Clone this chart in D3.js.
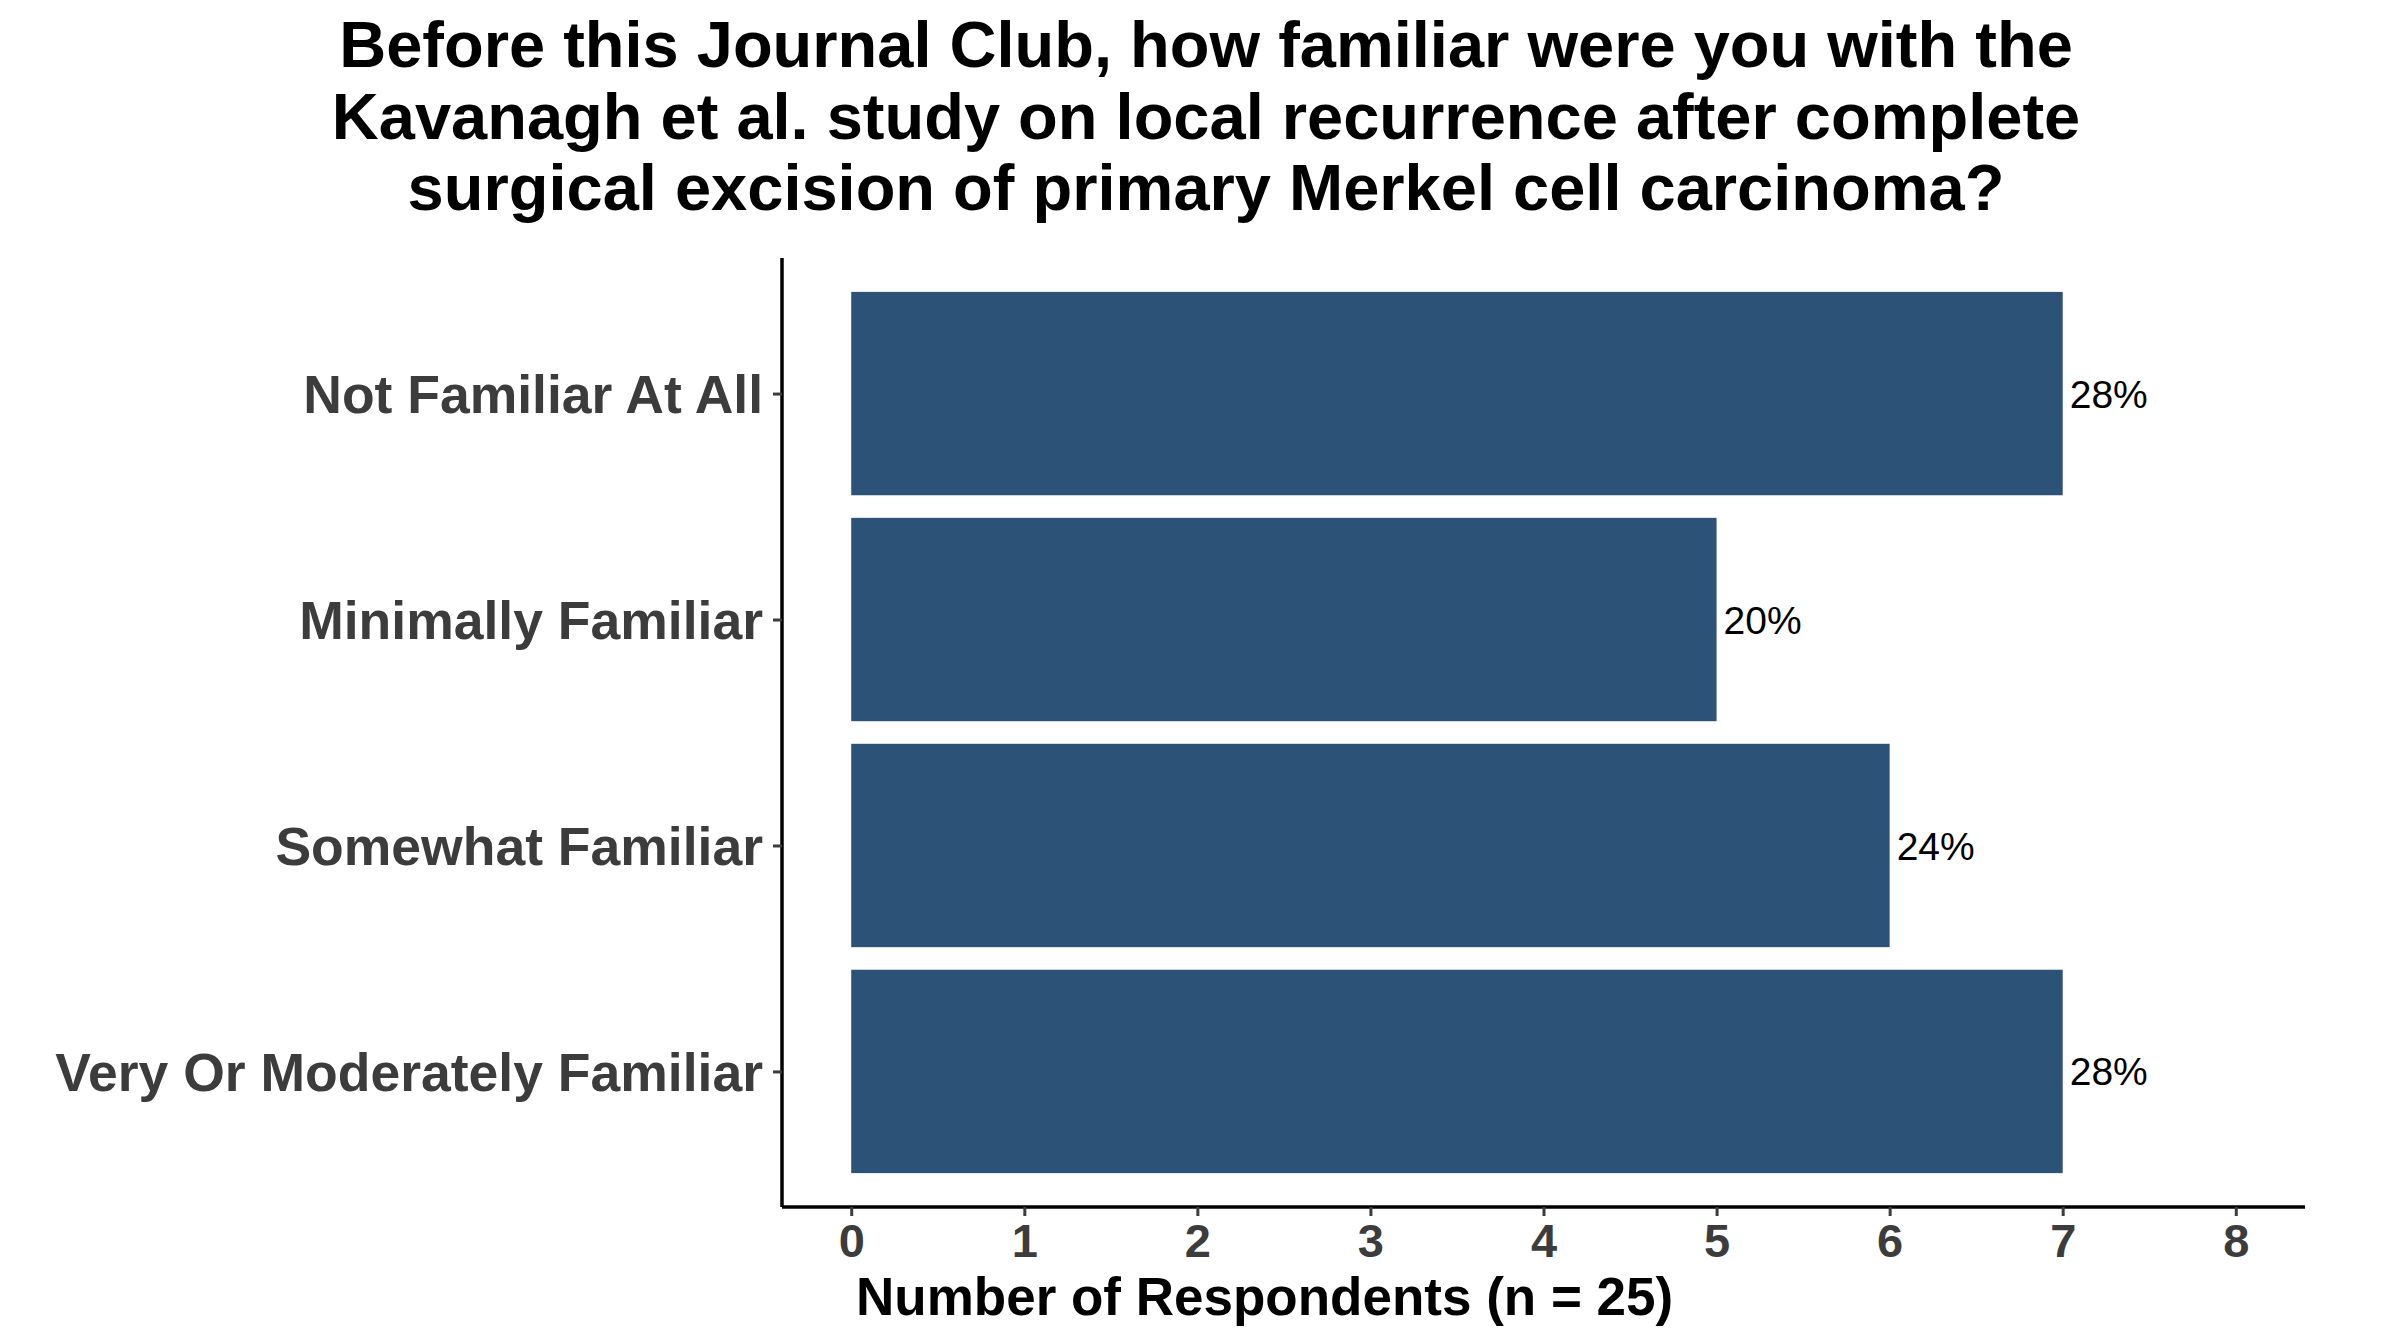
<!DOCTYPE html>
<html>
<head>
<meta charset="utf-8">
<script src="https://cdn.jsdelivr.net/npm/d3@7"></script>
<style>
  body { margin: 0; background: #fff; }
  text { font-family: "Liberation Sans", Arial, sans-serif; }
</style>
</head>
<body>
<div id="chart"></div>
<script>
// values
var categories = ["Not Familiar At All", "Minimally Familiar", "Somewhat Familiar", "Very Or Moderately Familiar"];
var counts = [7, 5, 6, 7];
var pctLabels = ["28%", "20%", "24%", "28%"];
var xTicks = [0, 1, 2, 3, 4, 5, 6, 7, 8];
var titleLines = [
    "Before this Journal Club, how familiar were you with the",
    "Kavanagh et al. study on local recurrence after complete",
    "surgical excision of primary Merkel cell carcinoma?"
];
var xTitle = "Number of Respondents (n = 25)";

function drawChart() {
    var width = 2400;
    var height = 1344;
    var panelLeft = 782, panelRight = 2305, panelTop = 258, panelBottom = 1207;
    var barColor = "#2C5277";
    var grey = "#3C3C3C";

    var svg = d3.select("#chart").append("svg")
        .attr("width", width)
        .attr("height", height);

    /*****************  Scales **********************/

    var x = d3.scaleLinear()
        .domain([-0.4, 8.4])
        .range([panelLeft, panelRight]);

    // discrete scale with 0.6 step expansion on both ends, like ggplot
    var step = (panelBottom - panelTop) / (categories.length - 1 + 1.2);
    var y = d3.scalePoint()
        .domain(categories)
        .range([panelTop + 0.6 * step, panelBottom - 0.6 * step]);
    var barH = step * 0.9;

    /*****************  Bars **********************/

    svg.selectAll(".bar")
        .data(categories)
        .enter()
        .append("rect")
        .attr("class", "bar")
        .attr("x", x(0))
        .attr("y", function (d) { return y(d) - barH / 2; })
        .attr("width", function (d, i) { return x(counts[i]) - x(0); })
        .attr("height", barH)
        .style("fill", barColor);

    svg.selectAll(".pct")
        .data(categories)
        .enter()
        .append("text")
        .attr("class", "pct")
        .attr("x", function (d, i) { return x(counts[i]) + 7; })
        .attr("y", function (d) { return y(d); })
        .attr("dy", "0.36em")
        .style("font-size", "39px")
        .style("fill", "#000")
        .text(function (d, i) { return pctLabels[i]; });

    /*****************  Axes **********************/

    var xAxis = svg.append("g")
        .attr("transform", "translate(0," + panelBottom + ")")
        .call(d3.axisBottom(x).tickValues(xTicks).tickSize(9).tickPadding(8).tickFormat(d3.format("d")));
    xAxis.select(".domain").attr("d", "M" + panelLeft + ",0H" + panelRight).style("stroke", "#000").style("stroke-width", 3.5);
    xAxis.selectAll(".tick line").style("stroke", grey).style("stroke-width", 3);
    xAxis.selectAll(".tick text")
        .style("font-size", "47px")
        .style("font-weight", "bold")
        .style("fill", grey)
        .style("font-family", "'Liberation Sans', Arial, sans-serif");

    var yAxis = svg.append("g")
        .attr("transform", "translate(" + panelLeft + ",0)")
        .call(d3.axisLeft(y).tickSize(9).tickPadding(10));
    yAxis.select(".domain").attr("d", "M0," + panelTop + "V" + panelBottom).style("stroke", "#000").style("stroke-width", 3.5);
    yAxis.selectAll(".tick line").style("stroke", grey).style("stroke-width", 3);
    yAxis.selectAll(".tick text")
        .attr("dy", "0.36em")
        .style("font-size", "53.5px")
        .style("font-weight", "bold")
        .style("fill", grey)
        .style("font-family", "'Liberation Sans', Arial, sans-serif");

    /*****************  Titles **********************/

    svg.append("text")
        .attr("x", 856)
        .attr("y", 1315)
        .style("font-size", "53px")
        .style("font-weight", "bold")
        .style("fill", "#000")
        .text(xTitle);

    svg.selectAll(".title")
        .data(titleLines)
        .enter()
        .append("text")
        .attr("class", "title")
        .attr("x", 1206)
        .attr("y", function (d, i) { return 67 + i * 71.5; })
        .attr("text-anchor", "middle")
        .style("font-size", "65px")
        .style("font-weight", "bold")
        .style("fill", "#000")
        .text(function (d) { return d; });
}

drawChart();
</script>
</body>
</html>
